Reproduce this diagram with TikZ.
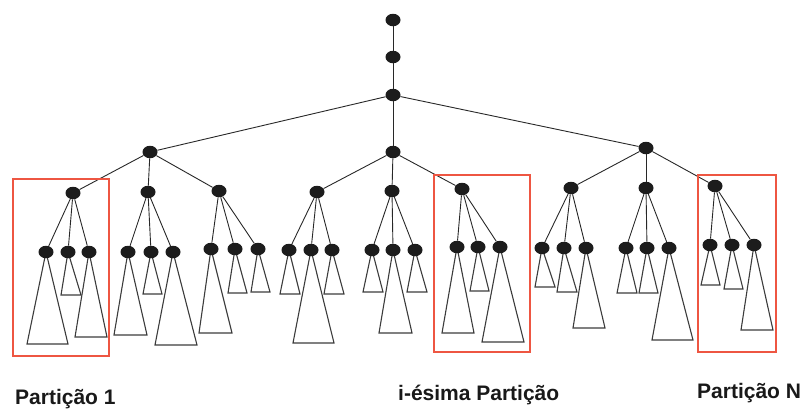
\documentclass[tikz,border=0pt]{standalone}
\usepackage{fontspec}
\setmainfont{Liberation Sans}
\usetikzlibrary{shapes.geometric}
\definecolor{partred}{RGB}{238,86,66}
\definecolor{dotfill}{RGB}{28,28,28}
\definecolor{edgecol}{RGB}{40,40,40}
\definecolor{tricol}{RGB}{60,60,60}

% leaf: name, parent, x, y, base y, base left x, base right x
\newcommand\leafnode[7]{%
  \draw[tri] (#3,#4) -- (#6,#5) -- (#7,#5) -- cycle;
  \node[dot] (#1) at (#3,#4) {};
  \draw[edge] (#2) -- (#1);
}

\begin{document}
\begin{tikzpicture}[x=1pt,y=-1pt,
  dot/.style={ellipse,fill=dotfill,draw=none,inner sep=0pt,minimum width=15pt,minimum height=12.5pt},
  edge/.style={draw=edgecol,line width=0.9pt},
  tri/.style={draw=tricol,line width=1.1pt},
  part/.style={draw=partred,line width=1.3pt},
  lbl/.style={anchor=base west,inner sep=0pt,font=\fontsize{21}{25}\selectfont\bfseries,text=black!90}]
\useasboundingbox (0,0) rectangle (805,408);

% spine at the top
\node[dot] (r0) at (393,20) {};
\node[dot] (r1) at (393,57) {};
\node[dot] (r2) at (393,95) {};
\draw[edge] (r0) -- (r1);
\draw[edge] (r1) -- (r2);

% third level
\node[dot] (la) at (150,152) {};
\node[dot] (lb) at (393,152) {};
\node[dot] (lc) at (646,148) {};
\foreach \n in {la,lb,lc} \draw[edge] (r2) -- (\n);

% partition roots
\node[dot] (g1) at (73,193) {};
\node[dot] (g2) at (148,192) {};
\node[dot] (g3) at (219,191) {};
\node[dot] (g4) at (317,192) {};
\node[dot] (g5) at (392,191) {};
\node[dot] (g6) at (462,189) {};
\node[dot] (g7) at (571,188) {};
\node[dot] (g8) at (646,188) {};
\node[dot] (g9) at (715,186) {};
\foreach \n in {g1,g2,g3} \draw[edge] (la) -- (\n);
\foreach \n in {g4,g5,g6} \draw[edge] (lb) -- (\n);
\foreach \n in {g7,g8,g9} \draw[edge] (lc) -- (\n);

% leaves with their subtrees
\leafnode{g1a}{g1}{46}{252}{344}{27}{68}
\leafnode{g1b}{g1}{68}{252}{295}{61}{81}
\leafnode{g1c}{g1}{89}{252}{337}{75}{107}
\leafnode{g2a}{g2}{128}{252}{335}{114}{147}
\leafnode{g2b}{g2}{151}{252}{294}{143}{162}
\leafnode{g2c}{g2}{173}{252}{345}{155}{197}
\leafnode{g3a}{g3}{211}{249}{333}{199}{232}
\leafnode{g3b}{g3}{235}{249}{293}{228}{247}
\leafnode{g3c}{g3}{258}{249}{292}{251}{270}
\leafnode{g4a}{g4}{289}{250}{294}{280}{300}
\leafnode{g4b}{g4}{311}{250}{343}{293}{334}
\leafnode{g4c}{g4}{332}{250}{294}{324}{344}
\leafnode{g5a}{g5}{372}{250}{292}{363}{383}
\leafnode{g5b}{g5}{393}{250}{333}{379}{412}
\leafnode{g5c}{g5}{415}{250}{292}{407}{427}
\leafnode{g6a}{g6}{457}{247}{333}{442}{474}
\leafnode{g6b}{g6}{478}{247}{291}{470}{489}
\leafnode{g6c}{g6}{500}{247}{342}{482}{524}
\leafnode{g7a}{g7}{542}{248}{287}{535}{555}
\leafnode{g7b}{g7}{564}{248}{292}{557}{577}
\leafnode{g7c}{g7}{586}{248}{328}{573}{605}
\leafnode{g8a}{g8}{626}{248}{293}{617}{637}
\leafnode{g8b}{g8}{647}{248}{293}{639}{658}
\leafnode{g8c}{g8}{669}{248}{340}{652}{693}
\leafnode{g9a}{g9}{710}{245}{285}{701}{720}
\leafnode{g9b}{g9}{732}{245}{289}{724}{743}
\leafnode{g9c}{g9}{754}{245}{330}{741}{773}

% partition frames
\draw[part] (13,179) rectangle (109,356);
\draw[part] (434,175) rectangle (530,352);
\draw[part] (698,175) rectangle (776,352);

% captions
\node[lbl] (cap1) at (15,404) {Partição 1};
\node[lbl] (capi) at (398,400) {i-ésima Partição};
\node[lbl] (capn) at (697,398) {Partição N};
\end{tikzpicture}
\end{document}
